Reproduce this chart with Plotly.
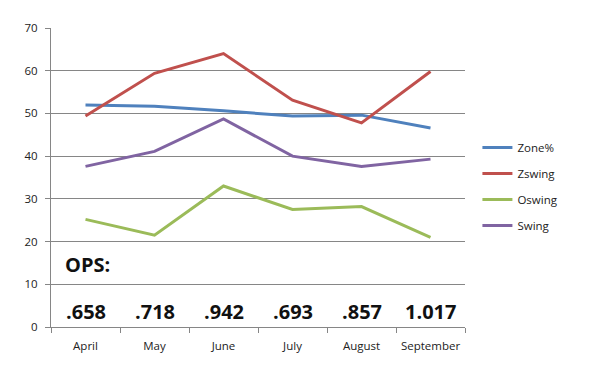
import plotly.graph_objects as go

months = ["April", "May", "June", "July", "August", "September"]
zone_pct = [52.0, 51.7, 50.6, 49.4, 49.6, 46.6]
zswing = [49.4, 59.4, 64.0, 53.1, 47.8, 59.8]
oswing = [25.2, 21.5, 33.0, 27.5, 28.2, 21.0]
swing = [37.6, 41.1, 48.7, 40.0, 37.6, 39.3]
ops = [".658", ".718", ".942", ".693", ".857", "1.017"]
y_ticks = [0, 10, 20, 30, 40, 50, 60, 70]

series = [
    ("Zone%", zone_pct, "#4F81BD"),
    ("Zswing", zswing, "#C0504D"),
    ("Oswing", oswing, "#9BBB59"),
    ("Swing", swing, "#8064A2"),
]

fig = go.Figure()
for name, vals, color in series:
    fig.add_trace(go.Scatter(x=months, y=vals, name=name, mode="lines",
                             legendgroup=name,
                             line=dict(color=color, width=3)))

for m, v in zip(months, ops):
    fig.add_annotation(x=m, y=3.7, text=v, showarrow=False, xref="x", yref="y",
                       font=dict(family="Open Sans", size=20, color="#111111", weight="bold"))
fig.add_annotation(x=0.03, y=14.6, text="OPS:", showarrow=False, xref="paper", yref="y",
                   xanchor="left",
                   font=dict(family="Open Sans", size=20, color="#111111", weight="bold"))

fig.update_layout(
    width=590, height=358,
    margin=dict(l=43, r=133, t=16, b=39),
    paper_bgcolor="white", plot_bgcolor="white",
    font=dict(family="Open Sans", size=11.5, color="#222222"),
    showlegend=True,
    legend=dict(x=1.03, y=0.47, yanchor="middle", xanchor="left",
                font=dict(size=11.5, color="#222222"), tracegroupgap=7,
                itemwidth=30, bgcolor="rgba(0,0,0,0)"),
    xaxis=dict(type="category", showline=True, linecolor="#868686", linewidth=1,
               ticks="outside", tickson="boundaries", ticklen=5, tickcolor="#868686",
               ticklabelstandoff=8,
               showgrid=False, zeroline=False, range=[-0.5, 5.5]),
    yaxis=dict(range=[0, 70], tickvals=y_ticks, showline=True, linecolor="#868686",
               linewidth=1, ticks="outside", ticklen=5, tickcolor="#868686",
               ticklabelstandoff=5,
               showgrid=True, gridcolor="#868686", gridwidth=1, zeroline=False),
)

fig.write_html("out.html")
